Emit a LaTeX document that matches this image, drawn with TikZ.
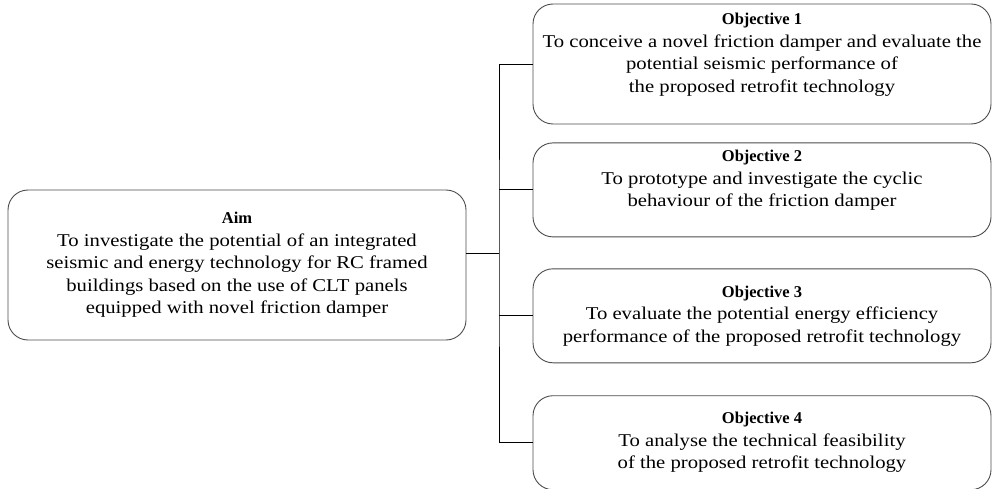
\documentclass[tikz,border=0pt]{standalone}
\usepackage{fontspec}
\setmainfont{Liberation Serif}[FakeStretch=1.15, BoldFeatures={FakeStretch=1}]
\usetikzlibrary{positioning}

\newcommand{\boxtitle}[1]{{\fontsize{16.5}{22.5}\selectfont\textbf{#1}}}

\begin{document}
\begin{tikzpicture}[x=1pt, y=-1pt,
        box/.style={draw=black!70, line width=0.9pt, rounded corners=20pt, align=center,
            inner sep=3pt, font=\fontsize{18}{22.5}\selectfont},
        obj/.style={box, minimum width=458pt, minimum height=94pt},
        link/.style={draw, line width=0.8pt}]
    \useasboundingbox (0,0) rectangle (993,489);
    \node[box, minimum width=458pt, minimum height=150pt] (aim) at (237,265)
        {\boxtitle{Aim}\\ To investigate the potential of an integrated\\
         seismic and energy technology for RC framed\\
         buildings based on the use of CLT panels\\
         equipped with novel friction damper};
    \node[obj, minimum height=120pt] (obj1) at (762,64)
        {\boxtitle{Objective 1}\\ To conceive a novel friction damper and evaluate the\\
         potential seismic performance of\\ the proposed retrofit technology\\ \mbox{}};
    \node[obj, below=18pt of obj1] (obj2)
        {\boxtitle{Objective 2}\\ To prototype and investigate the cyclic\\
         behaviour of the friction damper\\ \mbox{}};
    \node[obj, below=31pt of obj2] (obj3)
        {\boxtitle{Objective 3}\\ To evaluate the potential energy efficiency\\
         performance of the proposed retrofit technology};
    \node[obj, below=32pt of obj3] (obj4)
        {\boxtitle{Objective 4}\\ To analyse the technical feasibility\\
         of the proposed retrofit technology};
    \coordinate (spine) at (499,253);
    \draw[link] (aim.east |- spine) -- (spine);
    \draw[link] (obj1.west) -| (spine) |- (obj4.west);
    \draw[link] (obj2.west) -- (obj2.west -| spine);
    \draw[link] (obj3.west) -- (obj3.west -| spine);
\end{tikzpicture}
\end{document}
